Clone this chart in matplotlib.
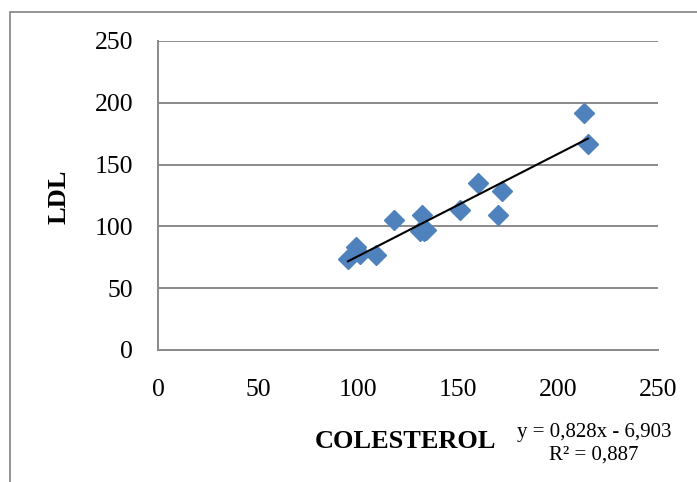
import matplotlib
matplotlib.use("Agg")
import matplotlib.pyplot as plt
from matplotlib.patches import Rectangle
import numpy as np

# Cholesterol vs LDL measurements
colesterol = [95, 99, 101, 109, 118, 131, 132, 133, 134, 151, 160, 170, 172, 213, 215]
ldl = [74, 83, 78, 77, 105, 96, 109, 96, 97, 113, 135, 109, 129, 192, 167]

# Linear trend reported on the chart
slope, intercept = 0.828, -6.903
r2 = 0.887

x_ticks = [0, 50, 100, 150, 200, 250]
y_ticks = [0, 50, 100, 150, 200, 250]

plt.rcParams["font.family"] = ["Liberation Serif", "DejaVu Serif"]

W, H = 697, 482
fig = plt.figure(figsize=(W / 100, H / 100), dpi=100)
ax = fig.add_axes([158 / W, 1 - 350 / H, (658 - 158) / W, (350 - 41) / H])

grid_c = "#8a8a8a"
ax.set_xlim(0, 250)
ax.set_ylim(0, 250)
ax.set_xticks(x_ticks)
ax.set_yticks(y_ticks)
ax.tick_params(length=0, labelsize=18.5, colors="black")
ax.tick_params(axis="y", pad=18)
ax.tick_params(axis="x", pad=21)
ax.yaxis.grid(True, color=grid_c, lw=1.4)
ax.set_axisbelow(True)
for s in ("top", "right"):
    ax.spines[s].set_visible(False)
for s in ("left", "bottom"):
    ax.spines[s].set_color(grid_c)
    ax.spines[s].set_linewidth(1.4)

ax.plot(colesterol, ldl, linestyle="none", marker="D", markersize=10.5,
        color="#4F81BD", markeredgecolor="#4F81BD", zorder=3)

xs = np.array([min(colesterol), max(colesterol)])
ax.plot(xs, slope * xs + intercept, color="black", lw=1.5, zorder=4)

fig.text(59 / W, 1 - 197 / H, "LDL", rotation=90, ha="center", va="center",
         fontsize=19, fontweight="bold")
fig.text(406 / W, 1 - 441 / H, "COLESTEROL", ha="center", va="center",
         fontsize=19, fontweight="bold")
fig.text(594 / W, 1 - 433 / H, "y = 0,828x - 6,903", ha="center", va="center",
         fontsize=15)
fig.text(594 / W, 1 - 455 / H, "R² = 0,887", ha="center", va="center",
         fontsize=15)

# outer chart frame
fig.add_artist(Rectangle((10 / W, -0.1), 1.2, 1.1 - 12 / H,
                         transform=fig.transFigure, fill=False,
                         edgecolor="#8c8c8c", lw=1.3, clip_on=False))

fig.savefig("out.png", dpi=100)
